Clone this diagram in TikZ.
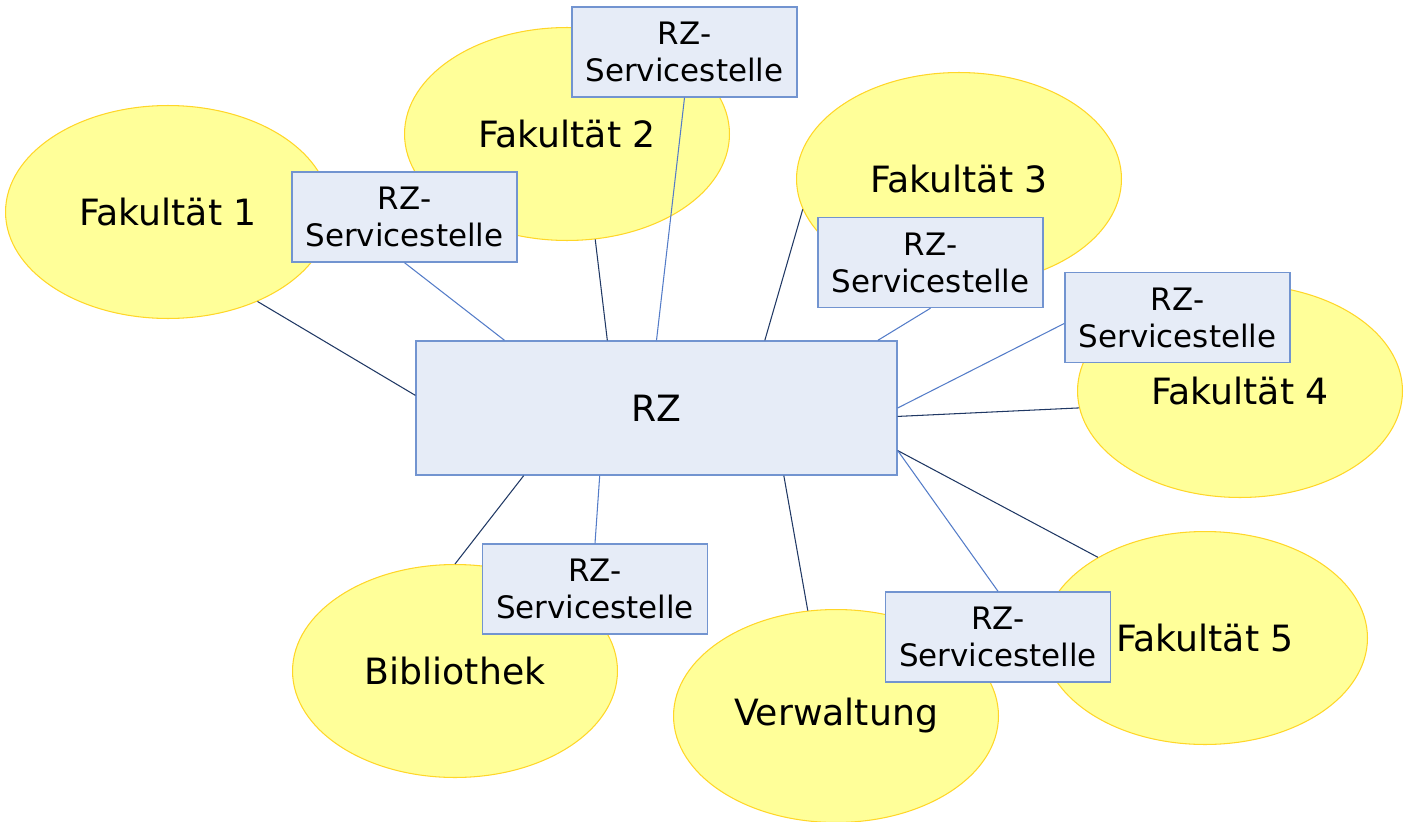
\documentclass[tikz,border=0pt]{standalone}
\usepackage{fontspec}
\setmainfont{DejaVu Sans}
\usetikzlibrary{shapes.geometric}
\definecolor{fakfill}{RGB}{255,255,153}
\definecolor{fakline}{RGB}{255,214,40}
\definecolor{boxfill}{RGB}{230,236,247}
\definecolor{boxline}{RGB}{114,148,208}
\definecolor{navy}{RGB}{32,56,100}
\definecolor{lightline}{RGB}{84,124,200}

\begin{document}
\begin{tikzpicture}[x=0.02cm,y=-0.02cm,
  fak/.style={ellipse, draw=fakline, fill=fakfill, line width=0.6pt, minimum width=6.5cm, minimum height=4.26cm, inner sep=0pt, font=\fontsize{20.6}{24}\selectfont},
  rzbox/.style={rectangle, draw=boxline, fill=boxfill, line width=0.8pt, font=\fontsize{20.6}{24}\selectfont},
  service/.style={rzbox, minimum width=4.5cm, minimum height=1.8cm, align=center, font=\fontsize{17.6}{21}\selectfont},
  link/.style={draw=navy, line width=0.6pt},
  servicelink/.style={draw=lightline, line width=0.6pt}]
%%Location
\useasboundingbox (0,0) rectangle (1412,821);
%%Faculties
\node[fak] (fak1) at (168,212) {Fakultät 1};
\node[fak] (fak2) at (567,134) {Fakultät 2};
\node[fak] (fak3) at (959,179) {Fakultät 3};
\node[fak] (fak4) at (1240,391) {Fakultät 4};
\node[fak] (fak5) at (1205,638) {Fakultät 5};
\node[fak] (bib) at (455,671) {Bibliothek};
\node[fak] (verw) at (836,716) {Verwaltung};
%%RZ
\node[rzbox, minimum width=9.62cm, minimum height=2.68cm] (rz) at (656.5,408) {RZ};
%%Servicestellen
\node[service] (ss1) at (404.5,217) {RZ-\\Servicestelle};
\node[service] (ss2) at (684.5,52) {RZ-\\Servicestelle};
\node[service] (ss3) at (930.5,262.5) {RZ-\\Servicestelle};
\node[service] (ss4) at (1177.5,317.5) {RZ-\\Servicestelle};
\node[service] (ssbib) at (595,589) {RZ-\\Servicestelle};
\node[service] (ssverw) at (998,637) {RZ-\\Servicestelle};
%%Links
\draw[link] (fak1.-45) -- (rz.177.4);
\draw[link] (fak2.-75) -- (rz.126.5);
\draw[link] (fak3.191) -- (rz.32.2);
\draw[link] (fak4.186) -- (rz.-2.6);
\draw[link] (fak5.143.5) -- (rz.-10.8);
\draw[link] (bib.90) -- (rz.207.5);
\draw[link] (verw.105.4) -- (rz.-28.9);
\draw[servicelink] (ss1.south) -- (rz.156.1);
\draw[servicelink] (ss2.south) -- (rz.90);
\draw[servicelink] (ss3.south) -- (rz.17);
\draw[servicelink] (ss4.183.3) -- (rz.0.5);
\draw[servicelink] (ssbib.north) -- (rz.230);
\draw[servicelink] (ssverw.north) -- (rz.-10.8);
\end{tikzpicture}
\end{document}
